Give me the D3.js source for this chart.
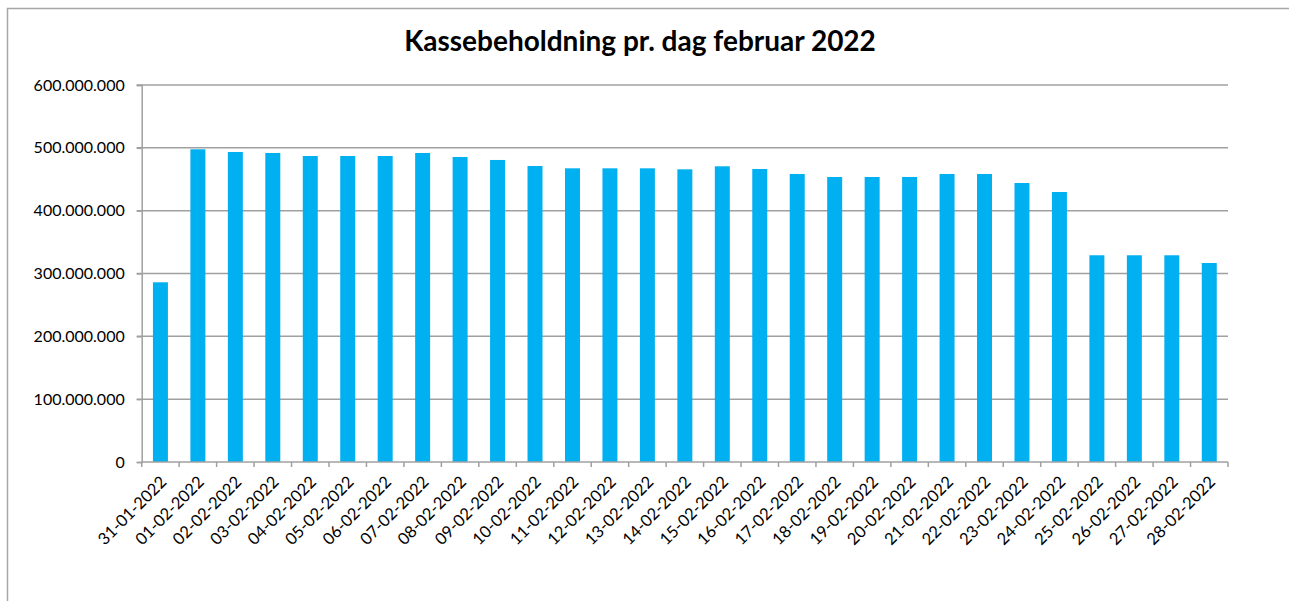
<!DOCTYPE html>
<html>
<head>
<meta charset="utf-8">
<script src="https://cdn.jsdelivr.net/npm/d3@7"></script>
<style>
  body { margin: 0; background: #fff; }
  svg { display: block; font-family: Lato, "Open Sans", sans-serif; }
</style>
</head>
<body>
<div id="chart"></div>
<script>
var title = "Kassebeholdning pr. dag februar 2022";

var dates = ["31-01-2022","01-02-2022","02-02-2022","03-02-2022","04-02-2022","05-02-2022",
  "06-02-2022","07-02-2022","08-02-2022","09-02-2022","10-02-2022","11-02-2022","12-02-2022",
  "13-02-2022","14-02-2022","15-02-2022","16-02-2022","17-02-2022","18-02-2022","19-02-2022",
  "20-02-2022","21-02-2022","22-02-2022","23-02-2022","24-02-2022","25-02-2022","26-02-2022",
  "27-02-2022","28-02-2022"];

var balance = [286000000, 497700000, 493400000, 491800000, 487000000, 487000000,
  487000000, 491800000, 485400000, 480700000, 471100000, 467400000, 467400000,
  467400000, 465800000, 470600000, 466300000, 458400000, 453600000, 453600000,
  453600000, 458400000, 458400000, 444000000, 429700000, 329000000, 329000000,
  329000000, 316700000];

var yTicks = [0, 100000000, 200000000, 300000000, 400000000, 500000000, 600000000];

var width = 1289, height = 601;
var margin = {left: 141.7, right: 1289 - 1228, top: 85, bottom: 601 - 462};

var svg = d3.select("#chart").append("svg")
  .attr("width", width)
  .attr("height", height);

// outer chart frame (runs off right/bottom edge like the original)
svg.append("rect")
  .attr("x", 7.5).attr("y", 8.5)
  .attr("width", width + 20).attr("height", height + 20)
  .attr("fill", "none")
  .attr("stroke", "#a6a6a6")
  .attr("stroke-width", 1.5);

var x = d3.scaleBand()
  .domain(dates)
  .range([margin.left, width - margin.right])
  .paddingInner(0.6)
  .paddingOuter(0.3);

var xb = d3.scaleBand()
  .domain(dates)
  .range([margin.left, width - margin.right]);

var y = d3.scaleLinear()
  .domain([0, 600000000])
  .range([height - margin.bottom, margin.top]);

var fmt = function(v){
  return d3.format(",")(v).replace(/,/g, ".");
};

// gridlines
svg.append("g")
  .selectAll("line")
  .data(yTicks.slice(1))
  .enter().append("line")
  .attr("x1", margin.left - 5).attr("x2", width - margin.right)
  .attr("y1", function(d){ return y(d); })
  .attr("y2", function(d){ return y(d); })
  .attr("stroke", "#a0a0a0")
  .attr("stroke-width", 1.5);

// y axis
var yAxis = svg.append("g")
  .attr("transform", "translate(" + margin.left + ",0)")
  .call(d3.axisLeft(y).tickValues(yTicks).tickFormat(fmt).tickSize(5).tickPadding(12));
yAxis.selectAll("path, line").attr("stroke", "#a0a0a0").attr("stroke-width", 1.5);
yAxis.selectAll("text").attr("font-size", 16).attr("fill", "#000")
  .style("font-family", "Lato, sans-serif");

// bars
svg.append("g")
  .selectAll("rect")
  .data(balance)
  .enter().append("rect")
  .attr("x", function(d, i){ return x(dates[i]); })
  .attr("width", x.bandwidth())
  .attr("y", function(d){ return y(d); })
  .attr("height", function(d){ return y(0) - y(d); })
  .attr("fill", "#00b0f0");

// x axis line + ticks at band edges
var xg = svg.append("g");
xg.append("line")
  .attr("x1", margin.left).attr("x2", width - margin.right)
  .attr("y1", y(0)).attr("y2", y(0))
  .attr("stroke", "#a0a0a0").attr("stroke-width", 1.5);
var edges = dates.map(function(d){ return xb(d); }).concat([width - margin.right]);
xg.selectAll("line.tick")
  .data(edges)
  .enter().append("line")
  .attr("class", "tick")
  .attr("x1", function(d){ return d; }).attr("x2", function(d){ return d; })
  .attr("y1", y(0)).attr("y2", y(0) + 5)
  .attr("stroke", "#a0a0a0").attr("stroke-width", 1.5);

xg.selectAll("text")
  .data(dates)
  .enter().append("text")
  .attr("transform", function(d){
    return "translate(" + (xb(d) + xb.bandwidth() / 2 + 3) + "," + (y(0) + 17) + ") rotate(-45)";
  })
  .attr("text-anchor", "end")
  .attr("dy", "0.35em")
  .attr("font-size", 16.5)
  .attr("fill", "#000")
  .text(function(d){ return d; });

// title
svg.append("text")
  .attr("x", 640).attr("y", 51)
  .attr("text-anchor", "middle")
  .attr("font-size", 28)
  .attr("font-weight", "bold")
  .attr("fill", "#000")
  .text(title);
</script>
</body>
</html>
